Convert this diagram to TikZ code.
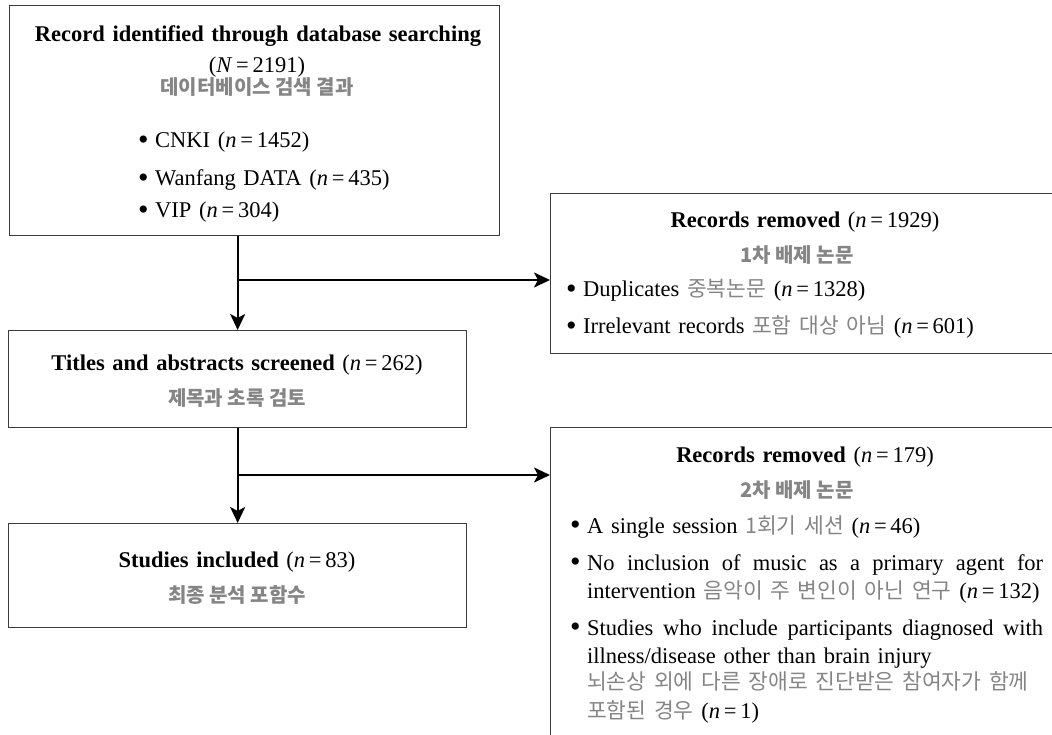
\documentclass[tikz,border=0pt]{standalone}
\usepackage{fontspec}
\setmainfont{Liberation Serif}
\newfontfamily\kor{Noto Sans CJK KR}
\usetikzlibrary{positioning, arrows.meta}
\definecolor{korgray}{HTML}{858585}
\definecolor{boxline}{HTML}{3C3C3C}
\newcommand{\kr}[1]{{\fontsize{21.5}{25}\selectfont\kor\color{korgray}#1}}
\newcommand{\nval}[2]{(\textit{#1}\,=\,#2)}
\newcommand{\itm}{\makebox[17pt][l]{\raisebox{-1.5pt}{\fontsize{30}{30}\selectfont\textbullet}}}
\newcommand{\wide}{\spaceskip=0.34em plus 0.1em minus 0.05em\relax}

\begin{document}
\begin{tikzpicture}[x=1pt, y=-1pt,
      flow_box/.style={draw=boxline, line width=1.3pt, inner sep=0pt, anchor=north west},
      flow_arrow/.style={-{Stealth[length=16pt, width=15pt, inset=4pt]}, line width=2.2pt},
      main_txt/.style={font=\fontsize{22.5}{26}\selectfont\wide, inner sep=0pt, anchor=base},
      head_txt/.style={font=\fontsize{22.5}{26}\selectfont\bfseries\wide, inner sep=0pt, anchor=base},
      kor_txt/.style={font=\fontsize{20}{24}\selectfont\kor\bfseries, text=korgray, inner sep=0pt, anchor=base},
      item_txt/.style={font=\fontsize{22.5}{26}\selectfont\wide, inner sep=0pt, anchor=base west}
    ]
      \useasboundingbox (0,0) rectangle (1052,735);
      \clip (0,0) rectangle (1052,735);

      % boxes
      \node[flow_box, minimum width=490pt, minimum height=230pt] (ident) at (9,5) {};
      \node[flow_box, minimum width=458pt, minimum height=97pt] (screen) at (8,330) {};
      \node[flow_box, minimum width=458pt, minimum height=104pt] (incl) at (8,523) {};
      \node[flow_box, minimum width=520pt, minimum height=160pt] (rem1) at (550,193) {};
      \node[flow_box, minimum width=520pt, minimum height=330pt] (rem2) at (550,427) {};

      % identification
      \node[head_txt] (identA) at (258,42) {Record identified through database searching};
      \node[main_txt] (identN) at (257,73) {\nval{N}{2191}};
      \node[kor_txt] (identK) at (257,95) {데이터베이스 검색 결과};
      \node[item_txt] (db1) at (138,148) {\itm CNKI \nval{n}{1452}};
      \node[item_txt] (db2) at (138,186) {\itm Wanfang DATA \nval{n}{435}};
      \node[item_txt] (db3) at (138,218) {\itm VIP \nval{n}{304}};

      % screening and included
      \node[main_txt] (screenA) at (237,370) {\textbf{Titles and abstracts screened} \nval{n}{262}};
      \node[kor_txt] (screenK) at (237,405) {제목과 초록 검토};
      \node[main_txt] (inclA) at (237,567) {\textbf{Studies included} \nval{n}{83}};
      \node[kor_txt] (inclK) at (237,602) {최종 분석 포함수};

      % first removal
      \node[main_txt] (rem1A) at (805,228) {\textbf{Records removed} \nval{n}{1929}};
      \node[kor_txt] (rem1K) at (797,263) {1차 배제 논문};
      \node[item_txt] (dup) at (566,297) {\itm Duplicates \kr{중복논문} \nval{n}{1328}};
      \node[item_txt] (irr) at (566,334) {\itm Irrelevant records \kr{포함 대상 아님} \nval{n}{601}};

      % second removal
      \node[main_txt] (rem2A) at (805,462) {\textbf{Records removed} \nval{n}{179}};
      \node[kor_txt] (rem2K) at (797,497) {2차 배제 논문};
      \node[item_txt] (sess) at (570,533) {\itm A single session \kr{1회기 세션} \nval{n}{46}};
      \node[item_txt] (musA) at (570,570) {\itm\makebox[456pt][s]{No inclusion of music as a primary agent for}};
      \node[item_txt] (musB) at (587,598) {intervention \kr{음악이 주 변인이 아닌 연구} \nval{n}{132}};
      \node[item_txt] (illA) at (570,635) {\itm\makebox[456pt][s]{Studies who include participants diagnosed with}};
      \node[item_txt] (illB) at (587,663) {illness/disease other than brain injury};
      \node[item_txt] (illC) at (587,689) {\kr{뇌손상 외에 다른 장애로 진단받은 참여자가 함께}};
      \node[item_txt] (illD) at (587,718) {\kr{포함된 경우} \nval{n}{1}};

      % connectors
      \coordinate (fork1) at (screen.north |- 0,280);
      \coordinate (fork2) at (screen.north |- 0,475);
      \draw[flow_arrow] (screen.north |- ident.south) -- (screen.north);
      \draw[flow_arrow] (fork1) -- (fork1 -| rem1.west);
      \draw[flow_arrow] (screen.south) -- (incl.north);
      \draw[flow_arrow] (fork2) -- (fork2 -| rem2.west);
\end{tikzpicture}
\end{document}
